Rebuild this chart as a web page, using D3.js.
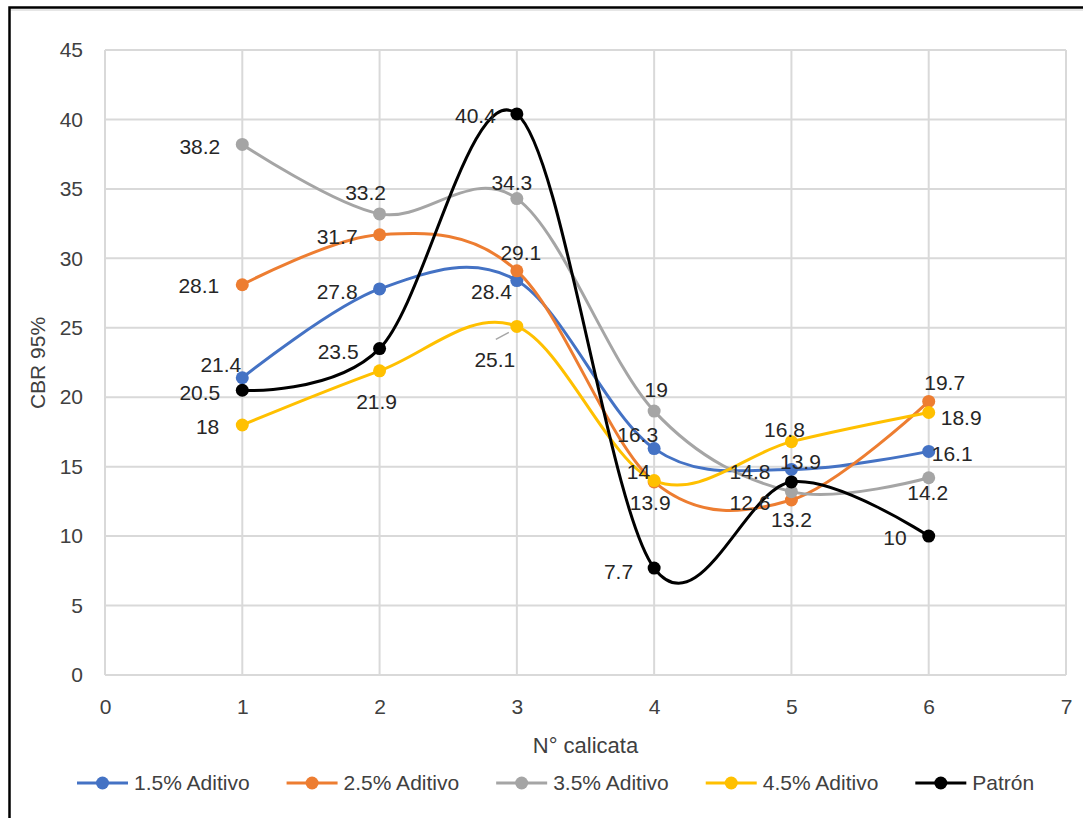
<!DOCTYPE html>
<html>
<head>
<meta charset="utf-8">
<script src="https://cdn.jsdelivr.net/npm/d3@7"></script>
<style>
  html, body { margin: 0; padding: 0; background: #fff; }
  svg { display: block; font-family: "Liberation Sans", Arial, sans-serif; }
</style>
</head>
<body>
<svg id="chart" width="1083" height="818"></svg>
<script>
// Calicata numbers (x) and CBR 95% values per series
const calicatas = [1, 2, 3, 4, 5, 6];
const aditivo15 = [21.4, 27.8, 28.4, 16.3, 14.8, 16.1];
const aditivo25 = [28.1, 31.7, 29.1, 13.9, 12.6, 19.7];
const aditivo35 = [38.2, 33.2, 34.3, 19, 13.2, 14.2];
const aditivo45 = [18, 21.9, 25.1, 14, 16.8, 18.9];
const patron    = [20.5, 23.5, 40.4, 7.7, 13.9, 10];
const seriesNames = ["1.5% Aditivo", "2.5% Aditivo", "3.5% Aditivo", "4.5% Aditivo", "Patrón"];
const xTicks = [0, 1, 2, 3, 4, 5, 6, 7];
const yTicks = [0, 5, 10, 15, 20, 25, 30, 35, 40, 45];

const seriesValues = [aditivo15, aditivo25, aditivo35, aditivo45, patron];
const colors = ["#4472C4", "#ED7D31", "#A5A5A5", "#FFC000", "#000000"];

// Data-label placement per series/point: [text-anchor, dx, dy]
const labelPlacement = [
  [["end", -1, -13], ["end", -22, 3], ["end", -5, 11], ["end", 4, -14], ["end", -21, 2], ["start", 3, 2]],
  [["end", -23, 1], ["end", -22, 2], ["middle", 4, -18], ["middle", -4, 21], ["end", -21, 3], ["middle", 16, -19]],
  [["end", -22, 2], ["middle", -14, -21], ["middle", -5, -16], ["middle", 2, -21], ["middle", 0, 28], ["middle", -1, 15]],
  [["end", -23, 2], ["middle", -3, 31], ["middle", -22, 33], ["end", -4, -9], ["middle", -7, -12], ["start", 12, 5]],
  [["end", -22, 2], ["end", -21, 3], ["end", -21, 2], ["end", -21, 4], ["middle", 9, -20], ["end", -22, 2]]
];

const svg = d3.select("#chart");
const plot = { left: 105, right: 1066, top: 50, bottom: 675 };

const x = d3.scaleLinear().domain([0, 7]).range([plot.left, plot.right]);
const y = d3.scaleLinear().domain([0, 45]).range([plot.bottom, plot.top]);

// Outer frame with faint shadow under the top edge
svg.append("line").attr("x1", 10).attr("x2", 1083).attr("y1", 10).attr("y2", 10)
  .attr("stroke", "#e6e6e6").attr("stroke-width", 2);
svg.append("rect").attr("x", 9.5).attr("y", 7.5).attr("width", 1090).attr("height", 830)
  .attr("fill", "none").attr("stroke", "#000").attr("stroke-width", 2.5);

const textColor = "#404040";
const gridColor = "#d9d9d9";

// Gridlines
const grid = svg.append("g");
grid.selectAll("line.h").data(yTicks).enter().append("line")
  .attr("x1", plot.left).attr("x2", plot.right)
  .attr("y1", d => y(d)).attr("y2", d => y(d))
  .attr("stroke", gridColor).attr("stroke-width", 2);
grid.selectAll("line.v").data(xTicks).enter().append("line")
  .attr("y1", plot.top).attr("y2", plot.bottom)
  .attr("x1", d => x(d)).attr("x2", d => x(d))
  .attr("stroke", gridColor).attr("stroke-width", 2);

// Axes (labels only; lines come from the grid)
const yAxis = svg.append("g").attr("transform", `translate(${plot.left},0)`)
  .call(d3.axisLeft(y).tickValues(yTicks).tickSize(0).tickPadding(22).tickFormat(d3.format("d")));
const xAxis = svg.append("g").attr("transform", `translate(0,${plot.bottom})`)
  .call(d3.axisBottom(x).tickValues(xTicks).tickSize(0).tickPadding(22).tickFormat(d3.format("d")));
[yAxis, xAxis].forEach(a => {
  a.select(".domain").remove();
  a.selectAll("text").attr("fill", textColor).style("font-size", "21px")
    .style("font-family", "'Liberation Sans', Arial, sans-serif");
});
xAxis.selectAll("text").attr("dy", "0.35em").attr("y", 32);

// Axis titles
svg.append("text").attr("x", (plot.left + plot.right) / 2).attr("y", 745).attr("dy", "0.35em")
  .attr("text-anchor", "middle").attr("fill", textColor).style("font-size", "22px")
  .text("N° calicata");
svg.append("text").attr("transform", "translate(38,363) rotate(-90)").attr("dy", "0.35em")
  .attr("text-anchor", "middle").attr("fill", textColor).style("font-size", "21px")
  .text("CBR 95%");

// Smoothed series lines
const line = d3.line()
  .x((d, i) => x(calicatas[i]))
  .y(d => y(d))
  .curve(d3.curveCatmullRom.alpha(0));

const seriesG = svg.append("g");
seriesValues.forEach((vals, s) => {
  const g = seriesG.append("g");
  g.append("path").datum(vals).attr("d", line)
    .attr("fill", "none").attr("stroke", colors[s]).attr("stroke-width", 3)
    .attr("stroke-linejoin", "round").attr("stroke-linecap", "round");
  g.selectAll("circle").data(vals).enter().append("circle")
    .attr("cx", (d, i) => x(calicatas[i])).attr("cy", d => y(d)).attr("r", 6.5)
    .attr("fill", colors[s]);
});

// Leader line for the 4.5% label at calicata 3
svg.append("line")
  .attr("x1", x(calicatas[2]) - 21).attr("y1", y(aditivo45[2]) + 13)
  .attr("x2", x(calicatas[2]) - 8).attr("y2", y(aditivo45[2]) + 6)
  .attr("stroke", "#a6a6a6").attr("stroke-width", 1.5);

// Data labels
const labelsG = svg.append("g");
seriesValues.forEach((vals, s) => {
  vals.forEach((v, i) => {
    const [anchor, dx, dy] = labelPlacement[s][i];
    labelsG.append("text")
      .attr("x", x(calicatas[i]) + dx).attr("y", y(v) + dy).attr("dy", "0.35em")
      .attr("text-anchor", anchor).attr("fill", "#262626").style("font-size", "21px")
      .text(v);
  });
});

// Legend
const legend = svg.append("g");
let lx = 77;
const ly = 783;
seriesNames.forEach((name, s) => {
  const item = legend.append("g");
  item.append("line").attr("x1", lx).attr("x2", lx + 51).attr("y1", ly).attr("y2", ly)
    .attr("stroke", colors[s]).attr("stroke-width", 3);
  item.append("circle").attr("cx", lx + 25.5).attr("cy", ly).attr("r", 6.5).attr("fill", colors[s]);
  const t = item.append("text").attr("x", lx + 57).attr("y", ly).attr("dy", "0.35em")
    .attr("fill", textColor).style("font-size", "21px").text(name);
  lx = lx + 57 + t.node().getComputedTextLength() + 37;
});
</script>
</body>
</html>
